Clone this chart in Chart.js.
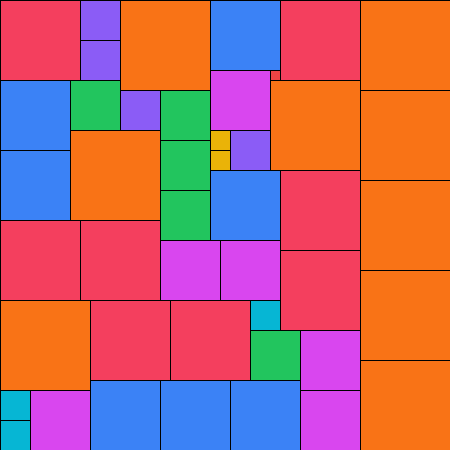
<!DOCTYPE html>
<html>
<head>
<meta charset="utf-8">
<script src="https://cdn.jsdelivr.net/npm/chart.js@4"></script>
<style>
  html, body { margin: 0; padding: 0; background: #fff; }
  #wrap { width: 450px; height: 450px; position: relative; }
</style>
</head>
<body>
<div id="wrap"><canvas id="packChart"></canvas></div>
<script>
// square packing — top-left corner and side, in grid units (10 units = 100 px)
const squareX = [0, 8, 8, 12, 21, 28, 36, 0, 7, 12, 16, 21, 27, 27, 36, 0, 7, 16, 21, 21, 23, 21, 28, 36, 16,
  0, 8, 16, 22, 28, 36, 0, 9, 17, 25, 25, 30, 36, 0, 0, 3, 9, 16, 23, 30];
const squareY = [0, 0, 4, 0, 0, 0, 0, 8, 8, 9, 9, 7, 7, 8, 9, 15, 13, 14, 13, 15, 13, 17, 17, 18, 19,
  22, 22, 24, 24, 25, 27, 30, 30, 30, 30, 33, 33, 36, 39, 42, 39, 38, 38, 38, 39];
const squareSize = [8, 4, 4, 9, 7, 8, 9, 7, 5, 4, 5, 6, 1, 9, 9, 7, 9, 5, 2, 2, 4, 7, 8, 9, 5,
  8, 8, 6, 6, 8, 9, 9, 8, 8, 3, 5, 6, 9, 3, 3, 6, 7, 7, 7, 6];
const GRID_MAX = 45;

// colour by side length
const sizeColors = {
  1: '#ef4444', 2: '#eab308', 3: '#06b6d4', 4: '#8b5cf6', 5: '#22c55e',
  6: '#d946ef', 7: '#3b82f6', 8: '#f43f5e', 9: '#f97316',
};

const squaresPlugin = {
  id: 'squares',
  afterDatasetsDraw(chart) {
    const { ctx, scales: { x, y } } = chart;
    ctx.save();
    ctx.lineWidth = 1;
    ctx.strokeStyle = '#000';
    squareX.forEach((sx, i) => {
      const s = squareSize[i];
      const l = Math.round(x.getPixelForValue(sx));
      const r = Math.round(x.getPixelForValue(sx + s));
      const t = Math.round(y.getPixelForValue(squareY[i]));
      const b = Math.round(y.getPixelForValue(squareY[i] + s));
      ctx.fillStyle = sizeColors[s];
      ctx.fillRect(l, t, r - l, b - t);
      ctx.strokeRect(l + 0.5, t + 0.5, r - l, b - t);
    });
    ctx.restore();
  },
};

new Chart(document.getElementById('packChart'), {
  type: 'scatter',
  data: {
    datasets: [{
      data: squareX.map((sx, i) => ({ x: sx, y: squareY[i] })),
      pointRadius: 0, pointHoverRadius: 0,
    }],
  },
  options: {
    responsive: true, maintainAspectRatio: false, animation: false,
    layout: { padding: 0 },
    plugins: { legend: { display: false }, tooltip: { enabled: false } },
    scales: {
      x: { type: 'linear', min: 0, max: GRID_MAX, display: false },
      y: { type: 'linear', min: 0, max: GRID_MAX, reverse: true, display: false },
    },
  },
  plugins: [squaresPlugin],
});
</script>
</body>
</html>
